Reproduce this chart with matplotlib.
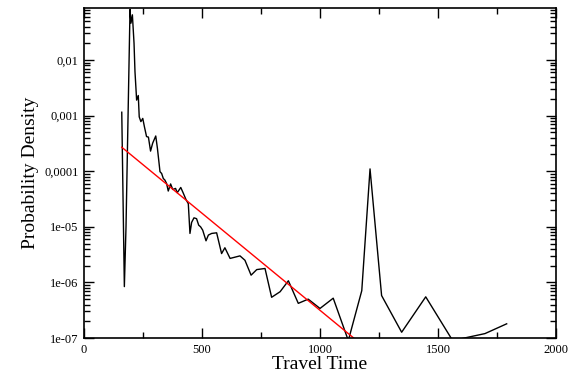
import matplotlib
matplotlib.use("Agg")
import matplotlib.pyplot as plt
from matplotlib.ticker import FixedLocator, FixedFormatter, LogLocator, NullFormatter, MultipleLocator

# travel time histogram
travel_time = [160, 171, 178, 195, 199, 205, 212, 216, 223, 230, 234, 241, 249, 256,
               265, 273, 282, 291, 304, 311, 318, 322, 329, 336, 343, 350, 357, 367,
               376, 388, 395, 410, 421, 432, 442, 449, 456, 466, 477, 486, 494, 503,
               517, 527, 541, 562, 583, 597, 619, 661, 682, 708, 732, 767, 795, 831,
               866, 908, 950, 1000, 1056, 1120, 1177, 1212, 1261, 1346, 1448, 1562,
               1699, 1791]
density = [1.15e-3, 8.4e-7, 1.0e-5, 8.1e-2, 4.6e-2, 6.5e-2, 2.0e-2, 6.2e-3, 1.9e-3,
           2.3e-3, 9.5e-4, 7.8e-4, 8.9e-4, 6.3e-4, 4.2e-4, 4.1e-4, 2.3e-4, 3.2e-4,
           4.3e-4, 2.6e-4, 1.4e-4, 9.8e-5, 9.1e-5, 7.4e-5, 6.9e-5, 6.0e-5, 4.4e-5,
           5.9e-5, 4.7e-5, 4.9e-5, 4.1e-5, 5.1e-5, 4.0e-5, 3.1e-5, 2.6e-5, 7.6e-6,
           1.2e-5, 1.45e-5, 1.4e-5, 1.07e-5, 1.0e-5, 8.7e-6, 5.6e-6, 7.1e-6, 7.6e-6,
           7.8e-6, 3.3e-6, 4.2e-6, 2.7e-6, 3.0e-6, 2.5e-6, 1.35e-6, 1.7e-6, 1.78e-6,
           5.4e-7, 6.8e-7, 1.07e-6, 4.2e-7, 5.0e-7, 3.4e-7, 5.2e-7, 9.0e-8, 7.1e-7,
           1.1e-4, 5.8e-7, 1.27e-7, 5.5e-7, 9.0e-8, 1.2e-7, 1.8e-7]

# exponential fit (straight line on log scale), end points
fit_x = [160, 1160]
fit_y = [2.7e-4, 8.7e-8]

y_ticks = [1e-7, 1e-6, 1e-5, 1e-4, 1e-3, 1e-2]
y_labels = ["1e-07", "1e-06", "1e-05", "0,0001", "0,001", "0,01"]

plt.rcParams["font.family"] = ["Liberation Serif", "DejaVu Serif"]

fig = plt.figure(figsize=(5.69, 3.77), dpi=100)
ax = fig.add_axes([84 / 569, 1 - 338 / 377, 472 / 569, 330.5 / 377])

ax.plot(travel_time, density, color="black", lw=1.0)
ax.plot(fit_x, fit_y, color="red", lw=1.0)

ax.set_yscale("log")
ax.set_xlim(0, 2000)
ax.set_ylim(1e-7, 0.088)

ax.xaxis.set_major_locator(MultipleLocator(500))
ax.xaxis.set_minor_locator(MultipleLocator(250))
ax.yaxis.set_major_locator(FixedLocator(y_ticks))
ax.yaxis.set_major_formatter(FixedFormatter(y_labels))
ax.yaxis.set_minor_locator(LogLocator(base=10, subs=range(2, 10)))
ax.yaxis.set_minor_formatter(NullFormatter())

ax.tick_params(which="both", direction="in", top=True, right=True, labelsize=9, width=1)
ax.tick_params(which="major", length=7, pad=4)
ax.tick_params(which="minor", length=4)
for s in ax.spines.values():
    s.set_linewidth(1.2)

ax.set_xlabel("Travel Time", fontsize=14, labelpad=0)
ax.set_ylabel("Probability Density", fontsize=14, labelpad=4)

fig.savefig("out.png", dpi=100)
